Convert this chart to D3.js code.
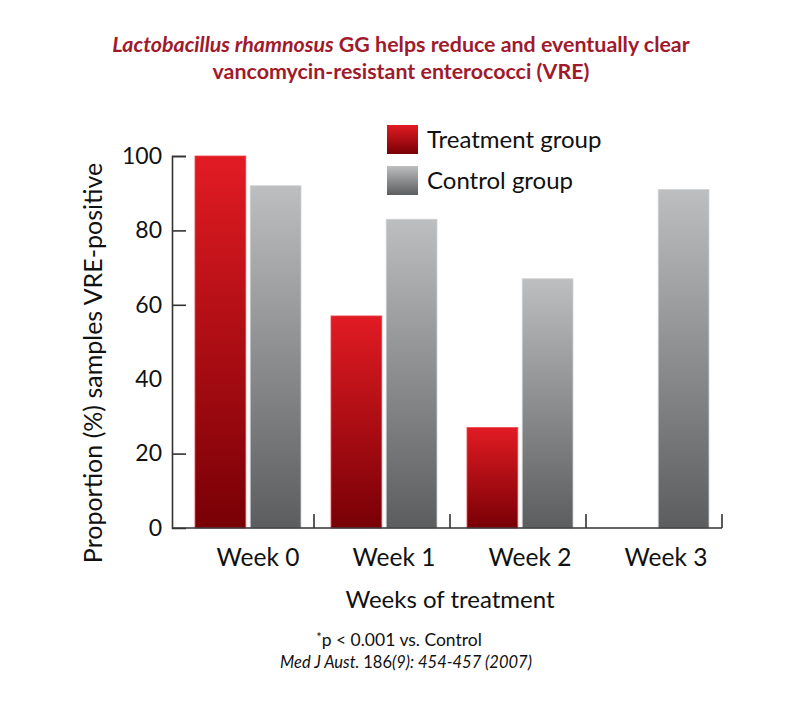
<!DOCTYPE html>
<html>
<head>
<meta charset="utf-8">
<script src="https://cdn.jsdelivr.net/npm/d3@7"></script>
<style>
  body { margin: 0; background: #fff; }
  text { font-family: Lato, "Open Sans", sans-serif; }
</style>
</head>
<body>
<div id="chart"></div>
<script>
// values
const weeks = ["Week 0", "Week 1", "Week 2", "Week 3"]
const groups = ["Treatment group", "Control group"]
const treatment = [100, 57, 27, 0]
const control = [92, 83, 67, 91]
const yTicks = [0, 20, 40, 60, 80, 100]

const width = 800
const height = 707

const svg = d3.select("#chart").append("svg")
  .attr("width", width)
  .attr("height", height)

// gradients, one per group, each bar gets the full ramp
const defs = svg.append("defs")
const grads = [
  { id: "gradRed", top: "#e21b23", bottom: "#780005" },
  { id: "gradGrey", top: "#bdbec0", bottom: "#5c5d5f" }
]
grads.forEach(g => {
  const lg = defs.append("linearGradient")
    .attr("id", g.id)
    .attr("x1", 0).attr("y1", 0).attr("x2", 0).attr("y2", 1)
  lg.append("stop").attr("offset", "0%").attr("stop-color", g.top)
  lg.append("stop").attr("offset", "100%").attr("stop-color", g.bottom)
})
const fills = ["url(#gradRed)", "url(#gradGrey)"]
const edges = ["#e8474c", "#d0d1d3"]

const x = d3.scaleBand().domain(weeks).range([178, 722])
const x1 = d3.scaleBand().domain(groups).range([17, 123]).paddingInner(0.08)
const y = d3.scaleLinear().domain([0, 100]).range([528, 156])

// title
const title = svg.append("text")
  .attr("text-anchor", "middle")
  .style("font-size", "21.4px")
  .style("font-weight", "bold")
  .style("fill", "#a01a2c")
const t1 = title.append("tspan").attr("x", 401).attr("y", 52)
t1.append("tspan").style("font-style", "italic").text("Lactobacillus rhamnosus")
t1.append("tspan").text(" GG helps reduce and eventually clear")
title.append("tspan").attr("x", 401).attr("y", 79)
  .text("vancomycin-resistant enterococci (VRE)")

// bars
const rows = weeks.map((w, i) => ({ week: w, values: [treatment[i], control[i]] }))

const week = svg.selectAll("g.week")
  .data(rows)
  .enter()
  .append("g")
  .attr("class", "week")
  .attr("transform", d => `translate(${x(d.week)},0)`)

week.selectAll("rect")
  .data(d => d.values.map((v, j) => ({ group: groups[j], value: v, j: j })))
  .enter()
  .filter(d => d.value > 0)
  .append("rect")
  .attr("x", d => x1(d.group))
  .attr("y", d => y(d.value))
  .attr("width", x1.bandwidth())
  .attr("height", d => y(0) - y(d.value))
  .style("fill", d => fills[d.j])
  .style("stroke", d => edges[d.j])
  .style("stroke-width", 0.8)

// y axis, ticks pointing inward
const yAxis = svg.append("g")
  .attr("transform", "translate(172,0)")
  .call(d3.axisLeft(y).tickValues(yTicks).tickSizeInner(-14).tickSizeOuter(-14).tickPadding(10))
yAxis.select(".domain").attr("stroke", "#333").attr("stroke-width", 1.6)
yAxis.selectAll(".tick line").attr("stroke", "#333").attr("stroke-width", 1.6)
  .filter(d => d === 40 || d === 0).remove()
yAxis.selectAll(".tick text")
  .style("font-size", "23px")
  .style("fill", "#111")
  .style("font-family", "Lato, sans-serif")

// x axis baseline with ticks at band edges
const xAxis = svg.append("g")
xAxis.append("line")
  .attr("x1", 172).attr("x2", x.range()[1])
  .attr("y1", y(0)).attr("y2", y(0))
  .attr("stroke", "#333").attr("stroke-width", 1.6)
xAxis.selectAll("line.tick")
  .data(weeks)
  .enter()
  .append("line")
  .attr("class", "tick")
  .attr("x1", d => x(d) + x.step())
  .attr("x2", d => x(d) + x.step())
  .attr("y1", y(0))
  .attr("y2", y(0) - 14)
  .attr("stroke", "#333").attr("stroke-width", 1.6)
xAxis.selectAll("text")
  .data(weeks)
  .enter()
  .append("text")
  .attr("x", d => x(d) + x.bandwidth() / 2 + 12)
  .attr("y", 566)
  .attr("text-anchor", "middle")
  .style("font-size", "24.5px")
  .style("fill", "#111")
  .text(d => d)

// axis titles
svg.append("text")
  .attr("x", 450).attr("y", 608)
  .attr("text-anchor", "middle")
  .style("font-size", "24px")
  .style("fill", "#111")
  .text("Weeks of treatment")

svg.append("text")
  .attr("transform", "translate(102,363) rotate(-90)")
  .attr("text-anchor", "middle")
  .style("font-size", "25px")
  .style("fill", "#111")
  .text("Proportion (%) samples VRE-positive")

// legend
const legend = svg.selectAll("g.legend")
  .data(groups)
  .enter()
  .append("g")
  .attr("class", "legend")
  .attr("transform", (d, i) => `translate(387,${125 + i * 41})`)
legend.append("rect")
  .attr("width", 31)
  .attr("height", 29)
  .style("fill", (d, i) => fills[i])
legend.append("text")
  .attr("x", 40)
  .attr("y", 23)
  .style("font-size", "24px")
  .style("fill", "#111")
  .text(d => d)

// footnote
const foot = svg.append("text")
  .attr("text-anchor", "middle")
  .style("font-size", "17.5px")
  .style("fill", "#111")
const f1 = foot.append("tspan").attr("x", 399).attr("y", 646)
f1.append("tspan").attr("dy", -4).style("font-size", "13px").text("*")
f1.append("tspan").attr("dy", 4).text("p < 0.001 vs. Control")
const f2 = foot.append("tspan").attr("x", 406).attr("y", 668).style("font-size", "16.5px")
f2.append("tspan").style("font-style", "italic").text("Med J Aust. ")
f2.append("tspan").text("186")
f2.append("tspan").style("font-style", "italic").text("(9): 454-457 (2007)")
</script>
</body>
</html>
